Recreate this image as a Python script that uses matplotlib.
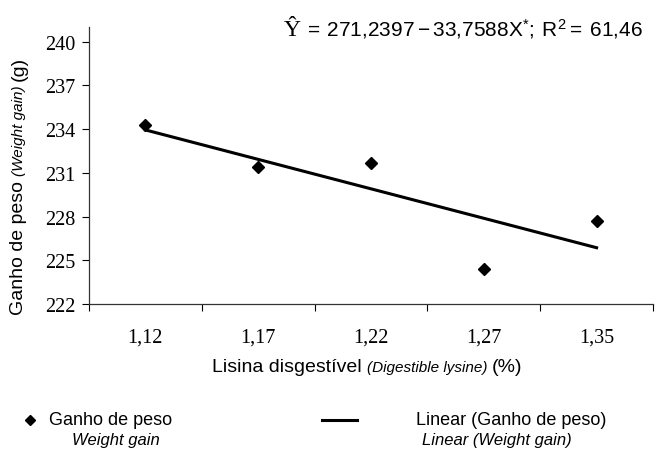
import numpy as np
import matplotlib.pyplot as plt
from matplotlib.lines import Line2D

# data
lysine = ["1,12", "1,17", "1,22", "1,27", "1,35"]
weight_gain = [234.3, 231.4, 231.7, 224.4, 227.7]
y_ticks = [222, 225, 228, 231, 234, 237, 240]

plt.rcParams["mathtext.default"] = "regular"
SANS = "Liberation Sans"
SERIF = "Liberation Serif"

fig = plt.figure(figsize=(6.56, 4.52), dpi=100)
ax = fig.add_axes([89 / 656, 1 - 305 / 452, 564 / 656, 277 / 452])

idx = np.arange(1, len(weight_gain) + 1)
ax.plot(idx, weight_gain, "D", color="black", markersize=6.5, clip_on=False, zorder=3)

# linear trendline (fit over category position, like the spreadsheet)
m, b = np.polyfit(idx, weight_gain, 1)
ax.plot(idx[[0, -1]], m * idx[[0, -1]] + b, color="black", lw=2.2)

ax.set_xlim(0.5, 5.5)
ax.set_ylim(222, 241)
ax.set_yticks(y_ticks)
ax.set_yticklabels([str(t) for t in y_ticks], fontfamily=SERIF, fontsize=14.5)
ax.set_xticks(idx)
ax.set_xticklabels(lysine, fontfamily=SERIF, fontsize=14.5)
ax.tick_params(axis="x", length=0, pad=17)
ax.set_xticks(np.arange(0.5, 6, 1), minor=True)
ax.tick_params(axis="x", which="minor", length=5, width=0.8, direction="out")
ax.tick_params(axis="y", length=5, width=0.8, direction="out", pad=5)
for s in ["top", "right"]:
    ax.spines[s].set_visible(False)
for s in ["left", "bottom"]:
    ax.spines[s].set_linewidth(0.9)
    ax.spines[s].set_color("#333333")

fig.canvas.draw()
renderer = fig.canvas.get_renderer()


def chain(pieces, x, y, rotation=0):
    # pieces: list of (text, size, style); laid out along the text direction, centred on x / y
    arts = []
    for txt, size, style in pieces:
        arts.append(fig.text(0, 0, txt, fontsize=size, style=style, family=SANS,
                             rotation=rotation, va="center", ha="left" if rotation == 0 else "center"))
    lens = []
    for a in arts:
        bb = a.get_window_extent(renderer)
        lens.append(bb.width if rotation == 0 else bb.height)
    pos = (x if rotation == 0 else y) - sum(lens) / 2
    for a, L in zip(arts, lens):
        if rotation == 0:
            a.set_position((pos / 656, y / 452))
        else:
            a.set_position((x / 656, pos / 452))
            a.set_va("bottom")
        pos += L


# axis labels (pixel coords measured from bottom)
chain([("Lisina disgestível ", 14, "normal"), ("(Digestible lysine) ", 11, "italic"),
       ("(%)", 14, "normal")], 367, 452 - 368)
chain([("Ganho de peso ", 14, "normal"), ("(Weight gain) ", 11, "italic"),
       ("(g)", 14, "normal")], 19, 452 - 186, rotation=90)

# equation
base = 1 - 36 / 452
fig.text(284 / 656, base, "Ŷ", family=SERIF, fontsize=17, va="baseline", ha="left")
fig.text(303 / 656, base, r"$=\,271{,}2397\,{-}\,33{,}7588X^{*};\,R^{2}{=}\,61{,}46$",
         family=SANS, fontsize=15, va="baseline", ha="left")

# legend
row1, row2 = 1 - 421 / 452, 1 - 441 / 452
fig.add_artist(Line2D([30 / 656], [row1], marker="D", color="black",
                      markersize=5, linestyle="none"))
fig.text(49 / 656, row1, "Ganho de peso", family=SANS, fontsize=13, va="center")
fig.text(116 / 656, row2, "Weight gain", family=SANS, fontsize=12, style="italic",
         va="center", ha="center")
fig.add_artist(Line2D([322 / 656, 357 / 656], [row1, row1], color="black", lw=2.2))
fig.text(511 / 656, row1, "Linear (Ganho de peso)", family=SANS, fontsize=13,
         va="center", ha="center")
fig.text(497 / 656, row2, "Linear (Weight gain)", family=SANS, fontsize=12,
         style="italic", va="center", ha="center")

fig.savefig("out.png", dpi=100)
